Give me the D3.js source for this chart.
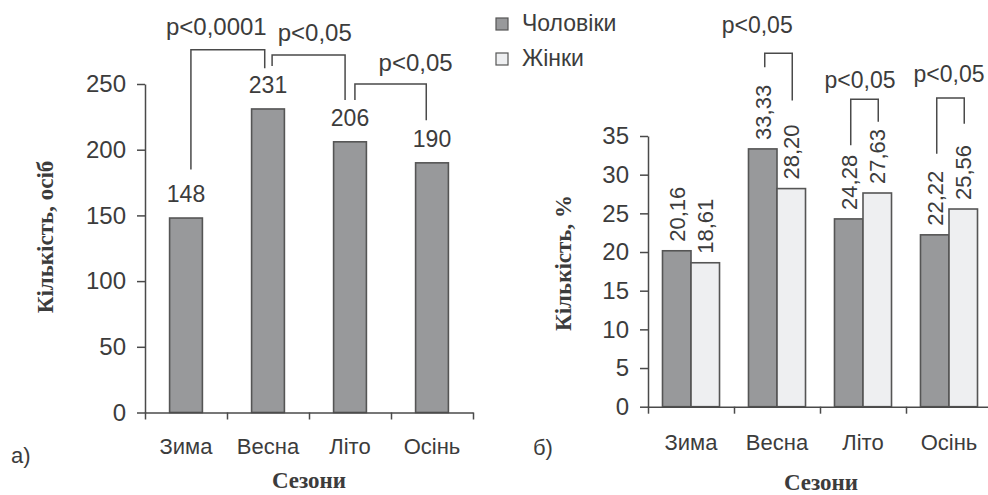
<!DOCTYPE html>
<html>
<head>
<meta charset="utf-8">
<script src="https://cdn.jsdelivr.net/npm/d3@7"></script>
<style>
  body { margin: 0; background: #fff; }
  text { font-family: "Liberation Sans", Arial, sans-serif; fill: #3c3c3c; }
  .title { font-family: "Liberation Serif", "Times New Roman", serif; font-weight: bold; }
</style>
</head>
<body>
<svg id="chart"></svg>
<script>
var seasons = ["Зима", "Весна", "Літо", "Осінь"];
var totalCounts = [148, 231, 206, 190];
var menPct = [20.16, 33.33, 24.28, 22.22];
var womenPct = [18.61, 28.20, 27.63, 25.56];
var leftTicks = [0, 50, 100, 150, 200, 250];
var rightTicks = [0, 5, 10, 15, 20, 25, 30, 35];
var seriesNames = ["Чоловіки", "Жінки"];

// significance brackets: x in category units, y in value units
var leftPairs = [
  {x0: 0.56, x1: 1.46, top: 276, end0: 185, end1: 262, lx: 0.87, ly: 287, text: "p<0,0001"},
  {x0: 1.55, x1: 2.44, top: 272, end0: 263.7, end1: 237.8, lx: 2.07, ly: 282.7, text: "p<0,05"},
  {x0: 2.56, x1: 3.43, top: 250, end0: 237.8, end1: 222.5, lx: 3.30, ly: 260, text: "p<0,05"}
];
var rightPairs = [
  {cat: 1, top: 45.7, end0: 43.9, end1: 39.6, lx: 1.27, ly: 48.3, text: "p<0,05"},
  {cat: 2, top: 39.75, end0: 33.8, end1: 36.85, lx: 2.465, ly: 41.2, text: "p<0,05"},
  {cat: 3, top: 39.9, end0: 32.7, end1: 36.6, lx: 3.5, ly: 42.0, text: "p<0,05"}
];

var width = 988, height = 495;
var lineColor = "#4a4a4a";
var darkFill = "#98999b", lightFill = "#eeeff1";

var svg = d3.select("#chart").attr("width", width).attr("height", height);

var commaFmt = function(v){ return d3.format(".2f")(v).replace(".", ","); };

// ---------- left chart (a) ----------
var aLeft = 145, aRight = 473, aBottom = 412.5, aTop = 84;

var xA = d3.scaleBand().domain(seasons).range([aLeft, aRight])
           .paddingInner(0.6).paddingOuter(0.3);
var xAIdx = d3.scaleLinear().domain([0, 4]).range([aLeft, aRight]);
var yA = d3.scaleLinear().domain([0, 250]).range([aBottom, aTop]);

var gA = svg.append("g");

gA.selectAll("rect.bar")
  .data(totalCounts)
  .enter()
  .append("rect")
  .attr("class", "bar")
  .attr("x", function(d, i){ return xA(seasons[i]); })
  .attr("y", function(d){ return yA(d); })
  .attr("width", xA.bandwidth())
  .attr("height", function(d){ return aBottom - yA(d); })
  .attr("fill", darkFill)
  .attr("stroke", "#555")
  .attr("stroke-width", 1.6);

gA.selectAll("text.val")
  .data(totalCounts)
  .enter()
  .append("text")
  .attr("class", "val")
  .attr("x", function(d, i){ return xA(seasons[i]) + xA.bandwidth() / 2; })
  .attr("y", function(d){ return yA(d) - 16; })
  .attr("text-anchor", "middle")
  .attr("font-size", 23)
  .text(function(d){ return d; });

gA.append("g")
  .attr("class", "yaxis")
  .attr("transform", "translate(" + aLeft + ",0)")
  .call(d3.axisLeft(yA).tickValues(leftTicks).tickSize(8).tickSizeOuter(0).tickPadding(11));

gA.append("g")
  .attr("transform", "translate(0," + aBottom + ")")
  .call(d3.axisBottom(xAIdx).ticks(4).tickSize(7).tickSizeOuter(0).tickFormat(""));

gA.selectAll("text.cat")
  .data(seasons)
  .enter()
  .append("text")
  .attr("class", "cat")
  .attr("x", function(d){ return xA(d) + xA.bandwidth() / 2; })
  .attr("y", 454)
  .attr("text-anchor", "middle")
  .attr("font-size", 22)
  .text(function(d){ return d; });

gA.selectAll(".bracket")
  .data(leftPairs)
  .enter()
  .append("path")
  .attr("class", "bracket")
  .attr("fill", "none")
  .attr("stroke", lineColor)
  .attr("stroke-width", 1.5)
  .attr("d", function(p){
    return "M" + xAIdx(p.x0) + "," + yA(p.end0) +
           "V" + yA(p.top) + "H" + xAIdx(p.x1) + "V" + yA(p.end1);
  });

gA.selectAll("text.pval")
  .data(leftPairs)
  .enter()
  .append("text")
  .attr("class", "pval")
  .attr("x", function(p){ return xAIdx(p.lx); })
  .attr("y", function(p){ return yA(p.ly); })
  .attr("text-anchor", "middle")
  .attr("font-size", 24)
  .text(function(p){ return p.text; });

gA.append("text")
  .attr("class", "title")
  .attr("transform", "translate(53,237) rotate(-90)")
  .attr("text-anchor", "middle")
  .attr("font-size", 23)
  .text("Кількість, осіб");

gA.append("text")
  .attr("class", "title")
  .attr("x", 309).attr("y", 488)
  .attr("text-anchor", "middle")
  .attr("font-size", 23)
  .text("Сезони");

gA.append("text")
  .attr("x", 11).attr("y", 463)
  .attr("font-size", 22)
  .text("а)");

// ---------- right chart (б) ----------
var bLeft = 648, bRight = 992, bBottom = 406.7, bTop = 136;

var xB = d3.scaleBand().domain(seasons).range([bLeft, bRight])
           .paddingInner(0.337).paddingOuter(0.1686);
var xBIdx = d3.scaleLinear().domain([0, 4]).range([bLeft, bRight]);
var xSub = d3.scaleBand().domain(["m", "f"]).range([0, xB.bandwidth()]);
var yB = d3.scaleLinear().domain([0, 35]).range([bBottom, bTop]);

var gB = svg.append("g");

var groupData = seasons.map(function(s, i){
  return [{key: "m", season: s, v: menPct[i]}, {key: "f", season: s, v: womenPct[i]}];
});
var flat = [].concat.apply([], groupData);

gB.selectAll("rect.bar")
  .data(flat)
  .enter()
  .append("rect")
  .attr("class", "bar")
  .attr("x", function(d){ return xB(d.season) + xSub(d.key); })
  .attr("y", function(d){ return yB(d.v); })
  .attr("width", xSub.bandwidth())
  .attr("height", function(d){ return bBottom - yB(d.v); })
  .attr("fill", function(d){ return d.key == "m" ? darkFill : lightFill; })
  .attr("stroke", "#555")
  .attr("stroke-width", 1.6);

gB.selectAll("text.val")
  .data(flat)
  .enter()
  .append("text")
  .attr("class", "val")
  .attr("transform", function(d){
    var cx = xB(d.season) + xSub(d.key) + xSub.bandwidth() / 2;
    return "translate(" + cx + "," + (yB(d.v) - 9) + ") rotate(-90)";
  })
  .attr("dy", "0.36em")
  .attr("text-anchor", "start")
  .attr("font-size", 22)
  .text(function(d){ return commaFmt(d.v); });

gB.append("g")
  .attr("class", "yaxis")
  .attr("transform", "translate(" + bLeft + ",0)")
  .call(d3.axisLeft(yB).tickValues(rightTicks).tickSize(8).tickSizeOuter(0).tickPadding(11));

gB.append("g")
  .attr("transform", "translate(0," + bBottom + ")")
  .call(d3.axisBottom(xBIdx).ticks(4).tickSize(7).tickSizeOuter(0).tickFormat(""));

gB.selectAll("text.cat")
  .data(seasons)
  .enter()
  .append("text")
  .attr("class", "cat")
  .attr("x", function(d){ return xB(d) + xB.bandwidth() / 2; })
  .attr("y", 450)
  .attr("text-anchor", "middle")
  .attr("font-size", 22)
  .text(function(d){ return d; });

gB.selectAll(".bracket")
  .data(rightPairs)
  .enter()
  .append("path")
  .attr("class", "bracket")
  .attr("fill", "none")
  .attr("stroke", lineColor)
  .attr("stroke-width", 1.5)
  .attr("d", function(p){
    var s = seasons[p.cat];
    var mx = xB(s) + xSub("m") + xSub.bandwidth() / 2 + 2;
    var fx = xB(s) + xSub("f") + xSub.bandwidth() / 2 + 1;
    return "M" + mx + "," + yB(p.end0) + "V" + yB(p.top) + "H" + fx + "V" + yB(p.end1);
  });

gB.selectAll("text.pval")
  .data(rightPairs)
  .enter()
  .append("text")
  .attr("class", "pval")
  .attr("x", function(p){ return xBIdx(p.lx); })
  .attr("y", function(p){ return yB(p.ly); })
  .attr("text-anchor", "middle")
  .attr("font-size", 23)
  .text(function(p){ return p.text; });

gB.append("text")
  .attr("class", "title")
  .attr("transform", "translate(571,263) rotate(-90)")
  .attr("text-anchor", "middle")
  .attr("font-size", 23)
  .text("Кількість, %");

gB.append("text")
  .attr("class", "title")
  .attr("x", 821).attr("y", 490)
  .attr("text-anchor", "middle")
  .attr("font-size", 23)
  .text("Сезони");

gB.append("text")
  .attr("x", 533).attr("y", 455)
  .attr("font-size", 22)
  .text("б)");

// legend
var legend = svg.append("g").attr("transform", "translate(496,18)");
seriesNames.forEach(function(name, i){
  var row = legend.append("g").attr("transform", "translate(0," + (i * 35) + ")");
  row.append("rect")
     .attr("width", 12).attr("height", 12)
     .attr("fill", i == 0 ? darkFill : lightFill)
     .attr("stroke", "#555").attr("stroke-width", 1.2);
  row.append("text")
     .attr("x", 26).attr("y", 12.5)
     .attr("font-size", 23)
     .text(name);
});

// axis styling
svg.selectAll(".domain, .tick line").attr("stroke", lineColor).attr("stroke-width", 1.5);
svg.selectAll(".yaxis .tick text").attr("font-size", 24).attr("fill", "#3c3c3c")
   .style("font-family", "'Liberation Sans', Arial, sans-serif");
</script>
</body>
</html>
